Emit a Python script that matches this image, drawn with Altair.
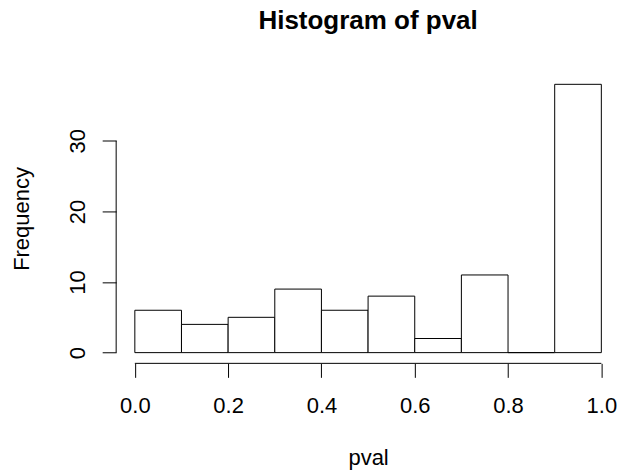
import altair as alt
import pandas as pd

# Histogram data
bin_start = [0.0, 0.1, 0.2, 0.3, 0.4, 0.5, 0.6, 0.7, 0.8, 0.9]
bin_end = [0.1, 0.2, 0.3, 0.4, 0.5, 0.6, 0.7, 0.8, 0.9, 1.0]
counts = [6, 4, 5, 9, 6, 8, 2, 11, 0, 38]

x_ticks = [0.0, 0.2, 0.4, 0.6, 0.8, 1.0]
y_ticks = [0, 10, 20, 30]

df = pd.DataFrame({"start": bin_start, "end": bin_end, "count": counts})

W = 504.4
H = 290.1
FONT = "Liberation Sans"

x_scale = alt.Scale(domain=[-0.04, 1.04], nice=False, zero=False)
y_scale = alt.Scale(domain=[-1.52, 39.52], nice=False, zero=False)

x_axis = alt.Axis(
    values=x_ticks, format=".1f", domain=False, grid=False,
    tickSize=14, tickColor="black", tickWidth=1,
    labelFont=FONT, labelFontSize=22, labelColor="black",
    labelBaseline="alphabetic", labelAlign="center", labelPadding=35,
    labelFlush=False, labelOverlap=False,
    title="pval", titleFont=FONT, titleFontSize=22, titleFontWeight="normal",
    titleColor="black", titleX=W / 2, titleY=101,
    titleAlign="center", titleBaseline="alphabetic",
)
y_axis = alt.Axis(
    values=y_ticks, format="d", domain=False, grid=False,
    tickSize=14, tickColor="black", tickWidth=1,
    labelFont=FONT, labelFontSize=22, labelColor="black",
    labelAngle=270, labelAlign="center", labelBaseline="alphabetic",
    labelPadding=18, labelFlush=False, labelOverlap=False,
    title="Frequency", titleFont=FONT, titleFontSize=22, titleFontWeight="normal",
    titleColor="black", titleAngle=270, titleX=-88, titleY=H / 2,
    titleAlign="center", titleBaseline="alphabetic",
)

bars = alt.Chart(df).mark_rect(fill="white", stroke="black", strokeWidth=1).encode(
    x=alt.X("start:Q", scale=x_scale, axis=x_axis),
    x2="end:Q",
    y=alt.Y("count:Q", scale=y_scale, axis=y_axis),
    y2=alt.datum(0),
)

xline_df = pd.DataFrame({"a": [x_ticks[0]], "b": [x_ticks[-1]]})
x_line = alt.Chart(xline_df).mark_rule(color="black", strokeWidth=1).encode(
    x=alt.X("a:Q", scale=x_scale), x2="b:Q", y=alt.value(H)
)
yline_df = pd.DataFrame({"a": [y_ticks[0]], "b": [y_ticks[-1]]})
y_line = alt.Chart(yline_df).mark_rule(color="black", strokeWidth=1).encode(
    y=alt.Y("a:Q", scale=y_scale), y2="b:Q", x=alt.value(0)
)

chart = (
    alt.layer(bars, x_line, y_line)
    .properties(
        width=W, height=H,
        background="white",
        autosize=alt.AutoSizeParams(type="none"),
        padding={"left": 116.3, "top": 73.4, "right": 0, "bottom": 111.5},
        title=alt.TitleParams(
            "Histogram of pval", font=FONT, fontSize=26, fontWeight="bold",
            color="black", anchor="middle", frame="group",
            baseline="alphabetic", offset=19,
        ),
    )
    .configure_view(strokeWidth=0, stroke="transparent")
)

chart.save("out.html", embed_options={"renderer": "svg", "actions": False})
